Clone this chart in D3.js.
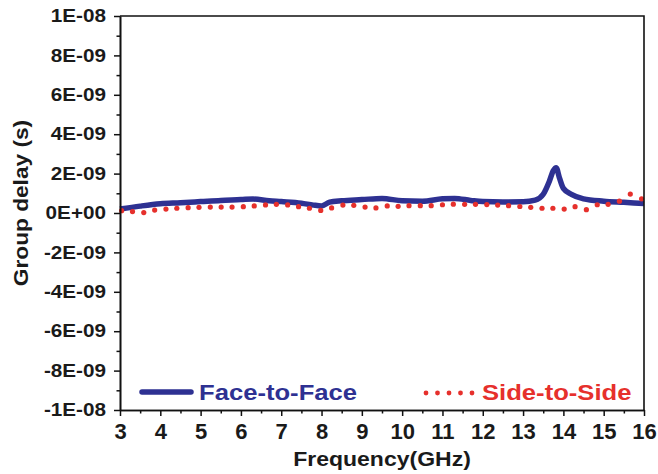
<!DOCTYPE html>
<html>
<head>
<meta charset="utf-8">
<script src="https://cdn.jsdelivr.net/npm/d3@7"></script>
<style>
  html, body { margin: 0; padding: 0; background: #fff; }
  svg { display: block; }
</style>
</head>
<body>
<svg id="chart" width="658" height="474"></svg>
<script>
// Face-to-Face group delay (s) vs frequency (GHz)
const faceFreq = [3.0, 3.5, 4.0, 4.5, 5.0, 5.5, 6.0, 6.3, 6.7, 7.0, 7.5, 7.8, 8.0, 8.2, 8.5, 9.0, 9.5,
                  10.0, 10.5, 11.0, 11.3, 11.7, 12.0, 12.5, 13.0, 13.3, 13.5, 13.65, 13.75, 13.82, 13.9,
                  14.0, 14.2, 14.5, 15.0, 15.5, 16.0];
const faceDelay = [0.20e-9, 0.35e-9, 0.47e-9, 0.52e-9, 0.58e-9, 0.64e-9, 0.68e-9, 0.71e-9, 0.62e-9, 0.58e-9,
                   0.50e-9, 0.40e-9, 0.36e-9, 0.55e-9, 0.62e-9, 0.68e-9, 0.74e-9, 0.62e-9, 0.60e-9, 0.72e-9,
                   0.74e-9, 0.64e-9, 0.58e-9, 0.56e-9, 0.57e-9, 0.65e-9, 0.95e-9, 1.60e-9, 2.15e-9, 2.30e-9,
                   1.80e-9, 1.25e-9, 0.95e-9, 0.72e-9, 0.60e-9, 0.54e-9, 0.48e-9];

// Side-to-Side group delay (s) vs frequency (GHz)
const sideFreq = [3.04, 3.31, 3.59, 3.86, 4.14, 4.41, 4.69, 4.96, 5.24, 5.51, 5.78, 6.06, 6.33, 6.61, 6.88,
                  7.16, 7.43, 7.70, 7.98, 8.25, 8.53, 8.80, 9.08, 9.35, 9.63, 9.90, 10.17, 10.45, 10.72,
                  11.00, 11.27, 11.55, 11.82, 12.10, 12.37, 12.64, 12.92, 13.19, 13.47, 13.74, 14.02,
                  14.29, 14.57, 14.84, 15.11, 15.39, 15.66, 15.94];
const sideDelay = [0.12e-9, 0.07e-9, 0.02e-9, 0.15e-9, 0.20e-9, 0.24e-9, 0.27e-9, 0.29e-9, 0.30e-9, 0.30e-9,
                   0.30e-9, 0.32e-9, 0.36e-9, 0.41e-9, 0.44e-9, 0.41e-9, 0.32e-9, 0.24e-9, 0.13e-9, 0.26e-9,
                   0.40e-9, 0.39e-9, 0.30e-9, 0.26e-9, 0.36e-9, 0.34e-9, 0.37e-9, 0.37e-9, 0.37e-9, 0.42e-9,
                   0.45e-9, 0.44e-9, 0.44e-9, 0.43e-9, 0.40e-9, 0.37e-9, 0.33e-9, 0.29e-9, 0.24e-9, 0.24e-9,
                   0.20e-9, 0.32e-9, 0.17e-9, 0.42e-9, 0.44e-9, 0.60e-9, 0.96e-9, 0.72e-9];

const seriesNames = ["Face-to-Face", "Side-to-Side"];
const xTickValues = [3, 4, 5, 6, 7, 8, 9, 10, 11, 12, 13, 14, 15, 16];
const xMinorTicks = [3.5, 4.5, 5.5, 6.5, 7.5, 8.5, 9.5, 10.5, 11.5, 12.5, 13.5, 14.5, 15.5];
const yTickValues = [-1e-8, -8e-9, -6e-9, -4e-9, -2e-9, 0, 2e-9, 4e-9, 6e-9, 8e-9, 1e-8];
const yTickLabels = ["-1E-08", "-8E-09", "-6E-09", "-4E-09", "-2E-09", "0E+00",
                     "2E-09", "4E-09", "6E-09", "8E-09", "1E-08"];
const yMinorTicks = [-9e-9, -7e-9, -5e-9, -3e-9, -1e-9, 1e-9, 3e-9, 5e-9, 7e-9, 9e-9];
const xTitle = "Frequency(GHz)";
const yTitle = "Group delay (s)";

const blue = "#2e3192";
const red = "#e6302c";
const font = "'Liberation Sans', Arial, Helvetica, sans-serif";

const plot = { left: 120, right: 644, top: 16, bottom: 410 };

const svg = d3.select("#chart");

const x = d3.scaleLinear().domain([3, 16]).range([plot.left, plot.right]);
const y = d3.scaleLinear().domain([-1e-8, 1e-8]).range([plot.bottom, plot.top]);

// ---- series ----
const line = d3.line()
  .x(d => x(d[0]))
  .y(d => y(d[1]))
  .curve(d3.curveMonotoneX);

svg.append("path")
  .datum(faceFreq.map((f, i) => [f, faceDelay[i]]))
  .attr("d", line)
  .attr("fill", "none")
  .attr("stroke", blue)
  .attr("stroke-width", 5.5)
  .attr("stroke-linejoin", "round")
  .attr("stroke-linecap", "butt");

svg.append("g")
  .selectAll("circle")
  .data(sideFreq.map((f, i) => [f, sideDelay[i]]))
  .join("circle")
  .attr("cx", d => x(d[0]))
  .attr("cy", d => y(d[1]))
  .attr("r", 2.6)
  .attr("fill", red);

// ---- axes ----
function styleAxis(g) {
  g.select(".domain").attr("stroke", "#111").attr("stroke-width", 1.6);
  g.selectAll(".tick line").attr("stroke", "#111").attr("stroke-width", 1.5);
}

const xAxis = svg.append("g")
  .attr("transform", `translate(0,${plot.bottom})`)
  .call(d3.axisBottom(x).tickValues(xTickValues).tickSize(6).tickSizeOuter(0).tickPadding(7)
        .tickFormat(d3.format("d")))
  .call(styleAxis);
xAxis.selectAll(".tick text")
  .attr("font-family", font).attr("font-weight", "bold")
  .attr("font-size", 22).attr("fill", "#1a1a1a");

svg.append("g")
  .attr("transform", `translate(0,${plot.bottom})`)
  .call(d3.axisBottom(x).tickValues(xMinorTicks).tickSize(3.5).tickSizeOuter(0).tickFormat(""))
  .call(styleAxis);

const yAxis = svg.append("g")
  .attr("transform", `translate(${plot.left},0)`)
  .call(d3.axisLeft(y).tickValues(yTickValues).tickSize(6).tickSizeOuter(0)
        .tickFormat((d, i) => yTickLabels[i]))
  .call(styleAxis);
yAxis.selectAll(".tick text")
  .attr("font-family", font).attr("font-weight", "bold")
  .attr("font-size", 18).attr("fill", "#1a1a1a")
  .attr("x", -12.2)
  .attr("transform", "scale(1.15,1)");

svg.append("g")
  .attr("transform", `translate(${plot.left},0)`)
  .call(d3.axisLeft(y).tickValues(yMinorTicks).tickSize(3.5).tickSizeOuter(0).tickFormat(""))
  .call(styleAxis);

// top and right frame edges
svg.append("path")
  .attr("d", `M${plot.left},${plot.top}H${plot.right}V${plot.bottom}`)
  .attr("fill", "none")
  .attr("stroke", "#111")
  .attr("stroke-width", 1.6);

// ---- titles ----
svg.append("text")
  .attr("transform", `translate(${(plot.left + plot.right) / 2},466) scale(1.15,1)`)
  .attr("text-anchor", "middle")
  .attr("font-family", font).attr("font-weight", "bold")
  .attr("font-size", 20).attr("fill", "#1a1a1a")
  .text(xTitle);

svg.append("text")
  .attr("transform", "translate(28,203) rotate(-90) scale(1.08,1)")
  .attr("text-anchor", "middle")
  .attr("font-family", font).attr("font-weight", "bold")
  .attr("font-size", 21).attr("fill", "#1a1a1a")
  .text(yTitle);

// ---- legend ----
const legend = svg.append("g");
legend.append("line")
  .attr("x1", 142).attr("x2", 191).attr("y1", 392).attr("y2", 392)
  .attr("stroke", blue).attr("stroke-width", 5.5).attr("stroke-linecap", "round");
legend.append("text")
  .attr("transform", "translate(199,400) scale(1.165,1)")
  .attr("font-family", font).attr("font-weight", "bold")
  .attr("font-size", 22).attr("fill", blue)
  .text(seriesNames[0]);

legend.append("g")
  .selectAll("circle")
  .data(d3.range(5))
  .join("circle")
  .attr("cx", i => 426 + i * 11.5)
  .attr("cy", 393)
  .attr("r", 2.4)
  .attr("fill", red);
legend.append("text")
  .attr("transform", "translate(482,400) scale(1.165,1)")
  .attr("font-family", font).attr("font-weight", "bold")
  .attr("font-size", 22).attr("fill", red)
  .text(seriesNames[1]);
</script>
</body>
</html>
